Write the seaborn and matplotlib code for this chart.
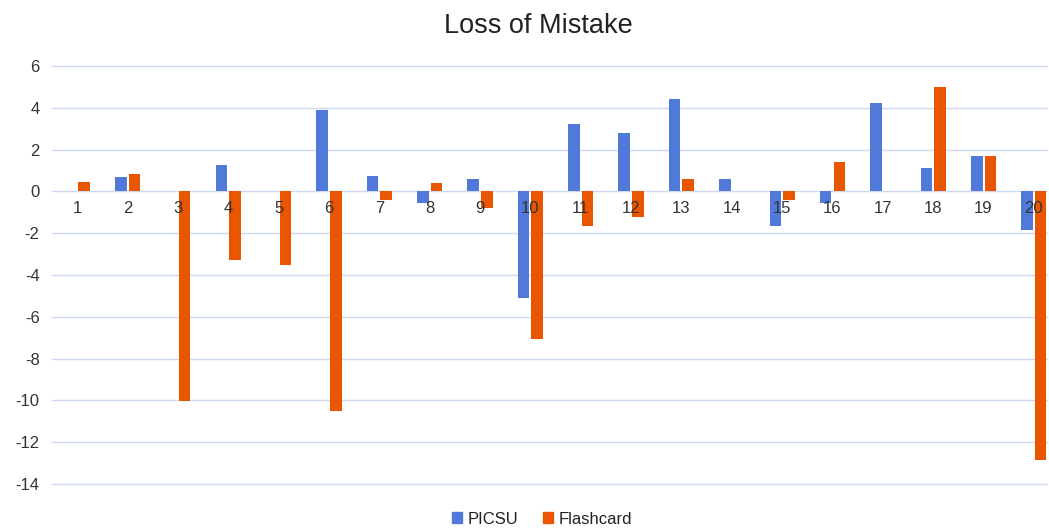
import numpy as np
import pandas as pd
import matplotlib
matplotlib.use('Agg')
import matplotlib.pyplot as plt
import seaborn as sns

# -----------------------

categories = [str(i) for i in range(1, 21)]
picsu = [0, 0.67, 0, 1.26, 0, 3.9, 0.72, -0.54, 0.59, -5.09,
	3.24, 2.78, 4.44, 0.57, -1.66, -0.54, 4.23, 1.13, 1.69, -1.85]
flashcard = [0.43, 0.85, -10.05, -3.28, -3.5, -10.5, -0.41, 0.42, -0.81, -7.06,
	-1.66, -1.21, 0.57, 0, -0.41, 1.42, 0, 5.01, 1.69, -12.84]
series = ['PICSU', 'Flashcard']
colors = ['#5079DA', '#EA5600']
yticks = list(range(-14, 7, 2))

# -----------------------

df = pd.DataFrame({
	'item': categories * 2,
	'loss': picsu + flashcard,
	'method': [series[0]] * len(categories) + [series[1]] * len(categories),
})

sns.set_style('white')
plt.rcParams['font.family'] = ['Liberation Sans', 'DejaVu Sans']
plt.rcParams['axes.unicode_minus'] = False

fig = plt.figure(figsize=(10.49, 5.29), dpi=100)
ax = fig.add_axes([52 / 1049, 1 - 484 / 529, (1047 - 52) / 1049, (484 - 66) / 529])

sns.barplot(data=df, x='item', y='loss', hue='method', order=categories,
	hue_order=series, palette=colors, width=0.54, gap=0.15, ax=ax,
	saturation=1, edgecolor='none')

ax.set_xlim(-0.5, 19.26)
ax.set_ylim(-14, 6)
ax.set_yticks(yticks)
ax.set(xlabel=None, ylabel=None)

for s in ax.spines.values():
	s.set_visible(False)
ax.spines['bottom'].set_position(('data', 0))

ax.yaxis.grid(True, color='#cdd8f2', lw=1)
for gl in ax.get_ygridlines():
	gl.set_clip_on(False)
ax.set_axisbelow(True)
# category labels sit on top of the bars, grid stays behind
ax.xaxis.set_zorder(5)
ax.yaxis.set_zorder(0.5)
ax.tick_params(axis='x', length=0, pad=7, labelsize=12, labelcolor='#333333')
ax.tick_params(axis='y', length=0, pad=9, labelsize=12, labelcolor='#333333')

fig.suptitle('Loss of Mistake', x=538 / 1049, y=1 - 26 / 529, va='center',
	fontsize=19.5, color='#222222')

ax.legend_.remove()
handles = [plt.Rectangle((0, 0), 1, 1, color=c) for c in colors]
fig.legend(handles, series, loc='center', bbox_to_anchor=(542 / 1049, 1 - 519 / 529),
	ncol=2, frameon=False, fontsize=12, handlelength=0.6, handleheight=0.6,
	handletextpad=0.3, columnspacing=1.5, labelcolor='#222222')

fig.savefig('out.png', dpi=100)
